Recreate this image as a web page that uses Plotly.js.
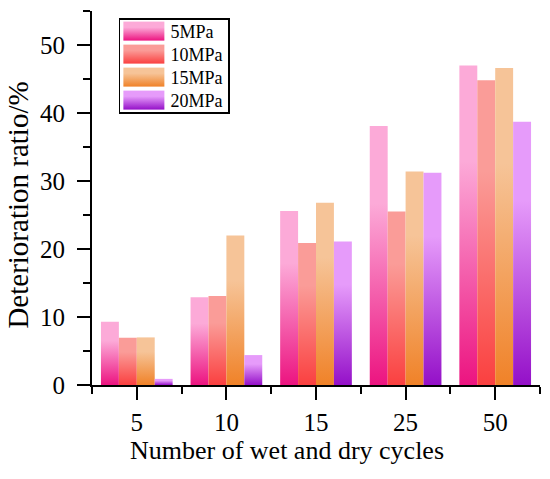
<!DOCTYPE html>
<html><head><meta charset="utf-8">
<script src="https://cdn.plot.ly/plotly-3.0.1.min.js"></script>
<style>html,body{margin:0;padding:0;background:#fff}</style>
</head><body><div id="chart" style="width:550px;height:479px"></div>
<script>
// ---- data ----
const cycles = ['5', '10', '15', '25', '50'];
const seriesNames = ['5MPa', '10MPa', '15MPa', '20MPa'];
const v5MPa = [9.3, 12.9, 25.6, 38.1, 47.0];
const v10MPa = [6.95, 13.1, 20.9, 25.5, 44.8];
const v15MPa = [7.0, 22.0, 26.8, 31.4, 46.6];
const v20MPa = [0.9, 4.4, 21.1, 31.2, 38.7];
const yTickVals = [0, 10, 20, 30, 40, 50];
const yMax = 55;

// ---- style ----
const gradTop = ['#FCAAD8', '#FA9C98', '#F6C498', '#E69BFA'];
const gradBottom = ['#EC1480', '#FA4040', '#F08228', '#9410C8'];
const midColor = ['#F45FAC', '#FA6E6C', '#F3A360', '#BD55E1'];
const font = 'Liberation Serif, Times New Roman, serif';

const values = [v5MPa, v10MPa, v15MPa, v20MPa];
const xIdx = cycles.map((c, i) => i);

const traces = seriesNames.map((name, k) => ({
  type: 'bar',
  name: name,
  x: xIdx,
  y: values[k],
  marker: {color: midColor[k], line: {width: 0}},
  hoverinfo: 'x+y+name'
}));

const axisCommon = {
  showline: true, linewidth: 2, linecolor: '#000',
  ticks: 'outside', ticklen: 13, tickwidth: 2, tickcolor: '#000',
  showgrid: false, zeroline: false, fixedrange: true,
  tickfont: {family: font, size: 25, color: '#000'}
};

const layout = {
  width: 550, height: 479,
  margin: {l: 92, r: 10, t: 11, b: 94},
  paper_bgcolor: '#fff', plot_bgcolor: '#fff',
  font: {family: font, color: '#000'},
  barmode: 'group', bargap: 0.2, bargroupgap: 0,
  showlegend: true,
  legend: {
    x: 0.06, y: 0.981, xanchor: 'left', yanchor: 'top',
    bgcolor: '#fff', bordercolor: '#000', borderwidth: 1.5,
    font: {family: font, size: 18, color: '#000'},
    itemwidth: 40, tracegroupgap: 0
  },
  xaxis: Object.assign({}, axisCommon, {
    type: 'linear', range: [-0.5, cycles.length - 0.5],
    tickmode: 'array', tickvals: xIdx, ticktext: cycles,
    ticklabelstandoff: 1,
    minor: {tickmode: 'linear', tick0: -0.5, dtick: 1, ticks: 'outside', ticklen: 7, tickwidth: 2, tickcolor: '#000'},
    title: {text: 'Number of wet and dry cycles', font: {family: font, size: 26, color: '#000'}, standoff: 6}
  }),
  yaxis: Object.assign({}, axisCommon, {
    range: [0, yMax], tickmode: 'array', tickvals: yTickVals,
    ticklabelstandoff: 7,
    minor: {tickmode: 'linear', tick0: 0, dtick: 5, ticks: 'outside', ticklen: 7, tickwidth: 2, tickcolor: '#000'},
    title: {text: 'Deterioration ratio/%', font: {family: font, size: 29, color: '#000'}, standoff: 3}
  })
};

const gd = document.getElementById('chart');
Plotly.newPlot(gd, traces, layout, {displayModeBar: false, staticPlot: true}).then(() => {
  const NS = 'http://www.w3.org/2000/svg';
  const svg = gd.querySelector('svg.main-svg');
  let defs = svg.querySelector('defs');
  if (!defs) { defs = document.createElementNS(NS, 'defs'); svg.insertBefore(defs, svg.firstChild); }
  seriesNames.forEach((n, k) => {
    const g = document.createElementNS(NS, 'linearGradient');
    g.setAttribute('id', 'barGrad' + k);
    g.setAttribute('x1', '0'); g.setAttribute('y1', '0');
    g.setAttribute('x2', '0'); g.setAttribute('y2', '1');
    [[0, gradTop[k]], [0.3, gradTop[k]], [1, gradBottom[k]]].forEach(([o, c]) => {
      const s = document.createElementNS(NS, 'stop');
      s.setAttribute('offset', o); s.setAttribute('stop-color', c);
      g.appendChild(s);
    });
    defs.appendChild(g);
  });
  gd.querySelectorAll('.barlayer .trace').forEach((tr, k) => {
    tr.querySelectorAll('path').forEach(p => { p.style.fill = 'url(#barGrad' + k + ')'; });
  });
  // legend: wide gradient swatches, tighter rows
  const rowH = 23, firstY = 13;
  gd.querySelectorAll('.legend .traces').forEach((item, k) => {
    const txt = item.querySelector('text.legendtext');
    const tx = parseFloat(txt.getAttribute('x')) || 40;
    const lp = item.querySelector('.legendpoints');
    if (lp) lp.style.display = 'none';
    const r = document.createElementNS(NS, 'rect');
    r.setAttribute('x', tx - 47); r.setAttribute('y', -9.5);
    r.setAttribute('width', 41); r.setAttribute('height', 19);
    r.setAttribute('fill', 'url(#barGrad' + k + ')');
    item.appendChild(r);
    const m = /translate\(([-\d.]+)[ ,]+([-\d.]+)\)/.exec(item.getAttribute('transform') || '');
    const ox = m ? parseFloat(m[1]) : 0;
    item.setAttribute('transform', 'translate(' + ox + ',' + (firstY + rowH * k) + ')');
  });
  const bg = gd.querySelector('.legend rect.bg');
  if (bg) bg.setAttribute('height', firstY + rowH * (seriesNames.length - 1) + 12);
  const xt = gd.querySelector('.g-xtitle');
  if (xt) xt.setAttribute('transform', 'translate(-29,0)');
  const yt = gd.querySelector('.g-ytitle');
  if (yt) yt.setAttribute('transform', 'translate(0,7)');
});
</script>
</body></html>
